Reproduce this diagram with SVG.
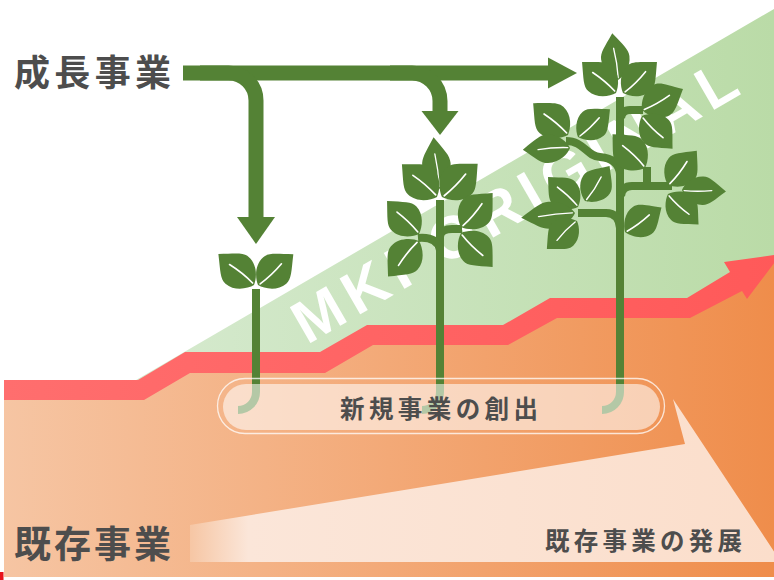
<svg xmlns="http://www.w3.org/2000/svg" width="774" height="580" viewBox="0 0 774 580">
  <style>
    .stem { fill: none; stroke: #548235; stroke-width: 8; }
    .arm { fill: none; stroke: #548235; stroke-width: 8; }
    .flow { fill: none; stroke: #548235; stroke-width: 15; }
    .head { fill: #548235; }
    .jp { font-family: 'Noto Sans CJK JP', 'Noto Sans', sans-serif; font-weight: 700; fill: #4d4d4d; }
    .mark { font-family: 'Liberation Sans', Arial, sans-serif; font-weight: 700; fill: #ffffff; }
  </style>
  <defs>
    <linearGradient id="gOrange" gradientUnits="userSpaceOnUse" x1="4" y1="0" x2="774" y2="0">
      <stop offset="0" stop-color="#f6c5a3"/>
      <stop offset="0.5" stop-color="#f3a977"/>
      <stop offset="1" stop-color="#ef8d4b"/>
    </linearGradient>
    <linearGradient id="gGreen" gradientUnits="userSpaceOnUse" x1="185" y1="0" x2="774" y2="0">
      <stop offset="0" stop-color="#d4e9cc"/>
      <stop offset="1" stop-color="#badba7"/>
    </linearGradient>
    <linearGradient id="gRed" gradientUnits="userSpaceOnUse" x1="4" y1="0" x2="781" y2="0">
      <stop offset="0" stop-color="#ff6e6e"/>
      <stop offset="1" stop-color="#ff5959"/>
    </linearGradient>
    <linearGradient id="gWedge" gradientUnits="userSpaceOnUse" x1="190" y1="0" x2="774" y2="0">
      <stop offset="0" stop-color="#f6c6a4"/>
      <stop offset="0.1" stop-color="#fbe6d9"/>
      <stop offset="1" stop-color="#fbdecb"/>
    </linearGradient>
    <!-- one leaf: base at origin, tip pointing up -->
    <g id="leaf">
      <path d="M0,0 C-6,-2 -15,-9 -15,-19 C-15,-25 -10,-29 0,-40 C10,-29 15,-25 15,-19 C15,-9 6,-2 0,0Z" fill="#548235"/>
      <path d="M0.5,-2 Q1.5,-14 -0.5,-27" fill="none" stroke="#ffffff" stroke-width="1.4" stroke-linecap="round"/>
    </g>
  </defs>

  <rect width="774" height="580" fill="#ffffff"/>

  <!-- background bands -->
  <g id="growth-area">
    <polygon points="100,401 774,9 774,400 100,400" fill="url(#gGreen)"/>
  </g>
  <g id="existing-area">
    <polygon points="4,390 141,390 187,363 322,363 370,335 505,335 553,308 688,308 745,275 774,259 774,577 4,577" fill="url(#gOrange)"/>
    <rect x="0" y="572" width="3.5" height="8" fill="#e8141c"/>
    <polygon points="190,525 685,444 673,399 781,562 190,562" fill="url(#gWedge)"/>
  </g>

  <!-- stepped growth line -->
  <g id="growth-line">
    <polygon fill="url(#gRed)" points="4,380 138,380 185,352 320,352 367,325 503,325 550,298 687,298 730,272 724,262 781,254 747,299 742,291 690,318 557,318 508,345 373,345 325,373 190,373 144,400 4,400"/>
  </g>

  <!-- watermark lettering across the growth area -->
  <text class="mark" font-size="60" transform="translate(307,345) rotate(-30)" textLength="503" lengthAdjust="spacing">MKI ORIGINAL</text>

  <!-- seedling -->
  <g id="plant-seedling">
    <path class="stem" d="M256,289 V392 A18,18 0 0 1 238,410"/>
    <use href="#leaf" transform="translate(254,285) rotate(-49) scale(1.18)"/>
    <use href="#leaf" transform="translate(258,285) rotate(49) scale(1.17)"/>
  </g>

  <!-- young plant -->
  <g id="plant-young">
    <path class="stem" d="M440,200 V392 A18,18 0 0 1 422,410"/>
    <path class="arm" d="M418,238 C430,237 438,240 440,250"/>
    <path class="arm" d="M440,237 C440,231 446,229 452,229 H462"/>
    <use href="#leaf" transform="translate(439,189) rotate(-6) scale(0.95,1.3)"/>
    <use href="#leaf" transform="translate(437,197) rotate(-47) scale(1.2)"/>
    <use href="#leaf" transform="translate(442,197) rotate(47) scale(1.22)"/>
    <use href="#leaf" transform="translate(419,234) rotate(-44) scale(1.15)"/>
    <use href="#leaf" transform="translate(419,241) rotate(-139) scale(1.18)"/>
    <use href="#leaf" transform="translate(461,227) rotate(43) scale(1.16)"/>
    <use href="#leaf" transform="translate(461,233) rotate(137) scale(1.16)"/>
  </g>

  <!-- mature plant -->
  <g id="plant-mature">
    <path class="stem" d="M620,97 V392 A18,18 0 0 1 602,410"/>
    <path class="arm" d="M621,118 Q622,110 630,110 H643"/>
    <path class="arm" d="M566,141 C584,141 586,156 600,157 C612,158 619,163 620,174"/>
    <path class="arm" d="M621,196 Q622,186 632,186 H672"/>
    <path class="arm" d="M647,186 V167"/>
    <path class="arm" d="M620,228 Q619,213 606,213 H578"/>
    <use href="#leaf" transform="translate(618,80) rotate(-7) scale(0.95,1.18)"/>
    <use href="#leaf" transform="translate(616,93) rotate(-47.6) scale(1.15)"/>
    <use href="#leaf" transform="translate(623,93) rotate(47.6) scale(1.15)"/>
    <use href="#leaf" transform="translate(642,110) rotate(63) scale(1.15)"/>
    <use href="#leaf" transform="translate(642,116) rotate(137) scale(1.12)"/>
    <use href="#leaf" transform="translate(568,135) rotate(-47.6) scale(1.18)"/>
    <use href="#leaf" transform="translate(578,137) rotate(49) scale(1.06)"/>
    <use href="#leaf" transform="translate(570,148) rotate(-92) scale(0.95,1.18)"/>
    <use href="#leaf" transform="translate(645,168) rotate(-44) scale(1.17)"/>
    <use href="#leaf" transform="translate(585,201) rotate(35) scale(1.07)"/>
    <use href="#leaf" transform="translate(578,207) rotate(-45) scale(1.06)"/>
    <use href="#leaf" transform="translate(575,213) rotate(-95) scale(0.9,1.35)"/>
    <use href="#leaf" transform="translate(577,221) rotate(-133) scale(1.03)"/>
    <use href="#leaf" transform="translate(625,232) rotate(56) scale(1.1)"/>
    <use href="#leaf" transform="translate(668,185) rotate(40) scale(1.12)"/>
    <use href="#leaf" transform="translate(682,190) rotate(92) scale(0.95,1.1)"/>
    <use href="#leaf" transform="translate(668,194) rotate(135) scale(1.08)"/>
  </g>

  <!-- new business pill -->
  <g id="new-business">
    <rect x="223" y="384" width="437" height="46" rx="23" fill="#ffffff" fill-opacity="0.56"/>
    <rect x="217.5" y="378.5" width="447" height="55" rx="27.5" fill="none" stroke="#ffffff" stroke-opacity="0.75" stroke-width="1.3"/>
    <text class="jp" x="439" y="418" font-size="24.5" text-anchor="middle" textLength="198" lengthAdjust="spacing" fill="#4a4a4a">新規事業の創出</text>
  </g>

  <g id="growth-label">
    <text class="jp" x="14" y="86" font-size="36" textLength="157" lengthAdjust="spacing">成長事業</text>
  </g>
  <g id="existing-label">
    <text class="jp" x="14" y="558" font-size="37" textLength="157" lengthAdjust="spacing">既存事業</text>
  </g>
  <g id="existing-growth">
    <text class="jp" x="545" y="550" font-size="24.5" textLength="197" lengthAdjust="spacing">既存事業の発展</text>
  </g>

  <!-- growth-investment arrows -->
  <g id="connectors">
    <path class="flow" d="M183,73 H549"/>
    <polygon class="head" points="548,57.5 577,73 548,88.5"/>
    <path class="flow" d="M200,73 H228.5 A27.5,27.5 0 0 1 256,100.5 V218"/>
    <polygon class="head" points="237,217 275,217 256,244"/>
    <path class="flow" d="M390,73 H412 A28,28 0 0 1 440,101 V113"/>
    <polygon class="head" points="421.5,111 458.5,111 440,135"/>
  </g>
</svg>
